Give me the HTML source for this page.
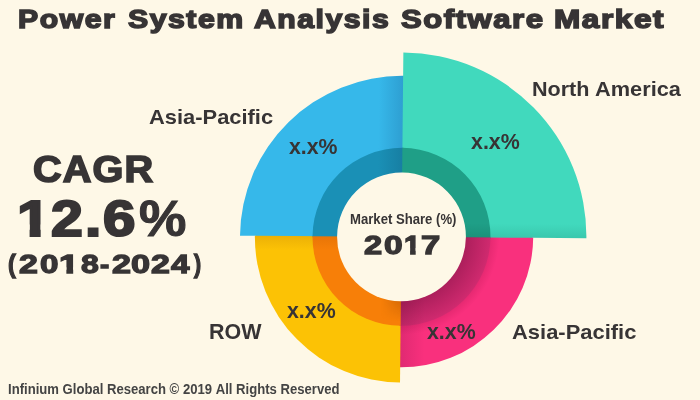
<!DOCTYPE html>
<html><head><meta charset="utf-8">
<style>
html,body{margin:0;padding:0;background:#fef8e7;}
body{position:relative;width:700px;height:400px;overflow:hidden;font-family:"Liberation Sans",sans-serif;}
svg{display:block;position:absolute;left:0;top:0}
.h{position:absolute;left:0;top:0;white-space:nowrap;font-family:"Liberation Sans",sans-serif;font-weight:bold;color:#373435;line-height:1;font-kerning:none;-webkit-text-stroke-color:#373435}
.h span{position:absolute;top:0;display:inline-block;transform-origin:0 0;white-space:pre}
</style></head><body>
<svg width="700" height="400" viewBox="0 0 700 400">
<defs>
<linearGradient id="gb" gradientUnits="userSpaceOnUse" x1="-24" y1="0" x2="0" y2="0"><stop offset="0" stop-color="#36b8ea"/><stop offset="1" stop-color="#2e9fd2"/></linearGradient>
<linearGradient id="gt" gradientUnits="userSpaceOnUse" x1="0" y1="-14" x2="0" y2="0"><stop offset="0" stop-color="#41d9bd"/><stop offset="1" stop-color="#39c8ad"/></linearGradient>
<linearGradient id="gp" gradientUnits="userSpaceOnUse" x1="24" y1="0" x2="0" y2="0"><stop offset="0" stop-color="#f9307d"/><stop offset="1" stop-color="#e02a72"/></linearGradient>
<linearGradient id="gy" gradientUnits="userSpaceOnUse" x1="0" y1="14" x2="0" y2="0"><stop offset="0" stop-color="#fcc205"/><stop offset="1" stop-color="#ecb106"/></linearGradient>
<linearGradient id="gbd" gradientUnits="userSpaceOnUse" x1="-24" y1="0" x2="0" y2="0"><stop offset="0" stop-color="#1a90b6"/><stop offset="1" stop-color="#177fa3"/></linearGradient>
<linearGradient id="gtd" gradientUnits="userSpaceOnUse" x1="0" y1="-14" x2="0" y2="0"><stop offset="0" stop-color="#1f9f87"/><stop offset="1" stop-color="#1b917a"/></linearGradient>
<linearGradient id="gyd" gradientUnits="userSpaceOnUse" x1="0" y1="14" x2="0" y2="0"><stop offset="0" stop-color="#f77f08"/><stop offset="1" stop-color="#e87507"/></linearGradient>
<radialGradient id="gpd" gradientUnits="userSpaceOnUse" cx="0" cy="0" r="89"><stop offset="0.725" stop-color="#ad1f5c"/><stop offset="1" stop-color="#d02a6f"/></radialGradient>
<radialGradient id="gps" gradientUnits="userSpaceOnUse" cx="0" cy="0" r="100"><stop offset="0.88" stop-color="#7a0030" stop-opacity="0.16"/><stop offset="0.98" stop-color="#7a0030" stop-opacity="0"/></radialGradient>
<linearGradient id="gpv" gradientUnits="userSpaceOnUse" x1="24" y1="0" x2="0" y2="0"><stop offset="0" stop-color="#000" stop-opacity="0"/><stop offset="1" stop-color="#000" stop-opacity="0.1"/></linearGradient>
<radialGradient id="gos" gradientUnits="userSpaceOnUse" cx="0" cy="0" r="89"><stop offset="0.725" stop-color="#8a3a00" stop-opacity="0.30"/><stop offset="0.95" stop-color="#8a3a00" stop-opacity="0"/></radialGradient>
<linearGradient id="gmo" gradientUnits="userSpaceOnUse" x1="0" y1="0" x2="-20" y2="0"><stop offset="0" stop-color="#fff"/><stop offset="1" stop-color="#000"/></linearGradient>
<mask id="mo" maskUnits="userSpaceOnUse" x="-25" y="55" width="26" height="40"><rect x="-25" y="55" width="26" height="40" fill="url(#gmo)"/></mask>
</defs>
<rect width="700" height="400" fill="#fef8e7"/>
<g transform="matrix(0.99997 0.00733 -0.01012 0.99995 401.5 236.85)">
  <path d="M1 1 L-146 1 L-146 0 L-161.5 0 A161.5 161 0 0 1 0 -161 L1 -161 Z" fill="url(#gb)"/>
  <path d="M0 1 L131 1 L131 0 L184.9 0 A184.9 184.3 0 0 0 0 -184.3 Z" fill="url(#gt)"/>
  <path d="M-1 0 L131.7 0 A131.7 130.5 0 0 1 0 130.5 L-1 130.5 Z" fill="url(#gp)"/>
  <path d="M0 0 L0 145.7 A146.6 145.7 0 0 1 -146.6 0 Z" fill="url(#gy)"/>
  <path d="M1 1 L-89 1 L-89 0 A89 89 0 0 1 0 -89 L1 -89 Z" fill="url(#gbd)"/>
  <path d="M0 1 L89 1 L89 0 A89 89 0 0 0 0 -89 Z" fill="url(#gtd)"/>
  <path d="M0 0 L110 0 A110 110 0 0 1 0 110 Z" fill="url(#gps)"/>
  <path d="M-1 0 L89 0 A89 89 0 0 1 0 89 L-1 89 Z" fill="url(#gpd)"/>
  <path d="M0 0 L89 0 A89 89 0 0 1 0 89 Z" fill="url(#gpv)"/>
  <path d="M0 0 L0 89 A89 89 0 0 1 -89 0 Z" fill="url(#gyd)"/>
  <path d="M0 0 L0 89 A89 89 0 0 1 -89 0 Z" fill="url(#gos)" mask="url(#mo)"/>
  <circle r="64.4" fill="#fef8e7"/>
</g>
</svg>

<div class="h" style="top:6.25px;font-size:26.16px;-webkit-text-stroke-width:1.5px;"><span style="left:18.34px;transform:scaleX(1.1557);letter-spacing:1.3px;">Power</span><span style="left:118.00px"> </span><span style="left:128.00px;transform:scaleX(1.1570);letter-spacing:1.3px;">System</span><span style="left:245.00px"> </span><span style="left:254.21px;transform:scaleX(1.1546);letter-spacing:1.3px;">Analysis</span><span style="left:391.00px"> </span><span style="left:400.80px;transform:scaleX(1.1872);letter-spacing:1.3px;">Software</span><span style="left:545.00px"> </span><span style="left:553.99px;transform:scaleX(1.2064);letter-spacing:1.3px;">Market</span></div>
<div class="h" style="top:151.89px;font-size:36.05px;-webkit-text-stroke-width:1.6px;"><span style="left:33.15px;transform:scaleX(1.1003);letter-spacing:1.0px;">CAGR</span></div>
<div class="h" style="top:194.24px;font-size:50.87px;-webkit-text-stroke-width:2.2px;"><span style="left:16.90px;transform:scaleX(1.1777);clip-path:polygon(-5px -5px,33.3px -5px,33.3px 30.3px,20.1px 30.3px,20.1px 55.9px,10.7px 55.9px,10.7px 30.3px,-5px 30.3px);">1</span><span style="left:51.45px;transform:scaleX(1.1239);">2</span><span style="left:84.69px;transform:scaleX(1.1515);">.</span><span style="left:102.73px;transform:scaleX(1.1459);">6</span><span style="left:139.10px;transform:scaleX(1.0476);-webkit-text-stroke-width:1.0px;">%</span></div>
<div class="h" style="top:251.43px;font-size:26.60px;-webkit-text-stroke-width:1.3px;"><span style="left:8.01px;transform:scaleX(0.8743);">(</span><span style="left:19.25px;transform:scaleX(1.2761);">2</span><span style="left:39.50px;transform:scaleX(1.2473);">0</span><span style="left:58.94px;transform:scaleX(1.3384);clip-path:polygon(-5px -5px,19.8px -5px,19.8px 15.9px,10.6px 15.9px,10.6px 31.6px,5.5px 31.6px,5.5px 15.9px,-5px 15.9px);">1</span><span style="left:80.57px;transform:scaleX(1.2058);">8</span><span style="left:100.19px;transform:scaleX(1.0430);">-</span><span style="left:111.85px;transform:scaleX(1.2832);">2</span><span style="left:131.48px;transform:scaleX(1.2903);">0</span><span style="left:151.45px;transform:scaleX(1.2761);">2</span><span style="left:171.11px;transform:scaleX(1.2478);">4</span><span style="left:193.80px;transform:scaleX(0.8062);">)</span></div>
<div class="h" style="top:232.03px;font-size:26.60px;-webkit-text-stroke-width:1.3px;"><span style="left:364.47px;transform:scaleX(1.2264);">2</span><span style="left:384.09px;transform:scaleX(1.2616);">0</span><span style="left:404.21px;transform:scaleX(1.1029);clip-path:polygon(-5px -5px,19.8px -5px,19.8px 15.9px,10.6px 15.9px,10.6px 31.6px,5.5px 31.6px,5.5px 15.9px,-5px 15.9px);">1</span><span style="left:420.86px;transform:scaleX(1.2989);">7</span></div>
<div class="h" style="top:106.53px;font-size:20.64px;"><span style="left:148.85px;transform:scaleX(1.0613);">Asia-Pacific</span></div>
<div class="h" style="top:79.37px;font-size:20.35px;"><span style="left:531.96px;transform:scaleX(1.0595);">North</span><span style="left:590.00px"> </span><span style="left:595.26px;transform:scaleX(1.0696);">America</span></div>
<div class="h" style="top:320.94px;font-size:21.22px;"><span style="left:208.56px;transform:scaleX(1.0115);">ROW</span></div>
<div class="h" style="top:322.03px;font-size:20.64px;"><span style="left:511.95px;transform:scaleX(1.0639);">Asia-Pacific</span></div>
<div class="h" style="top:137.25px;font-size:21.44px;"><span style="left:289.15px;transform:scaleX(0.9927);">x.x%</span></div>
<div class="h" style="top:132.05px;font-size:21.44px;"><span style="left:471.05px;transform:scaleX(0.9968);">x.x%</span></div>
<div class="h" style="top:301.15px;font-size:21.44px;"><span style="left:287.25px;transform:scaleX(0.9947);">x.x%</span></div>
<div class="h" style="top:322.25px;font-size:21.44px;"><span style="left:427.25px;transform:scaleX(0.9947);">x.x%</span></div>
<div class="h" style="top:211.84px;font-size:14.24px;"><span style="left:349.82px;transform:scaleX(0.9218);">Market Share (%)</span></div>
<div class="h" style="top:382.61px;font-size:13.81px;color:#444;-webkit-text-stroke-color:#444;"><span style="left:8.12px;transform:scaleX(0.9496);">Infinium Global Research © 2019 All Rights Reserved</span></div>
</body></html>
